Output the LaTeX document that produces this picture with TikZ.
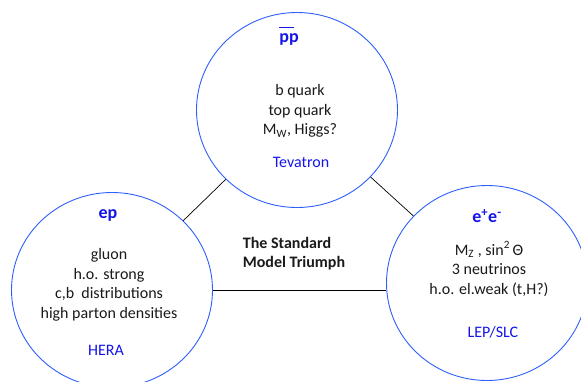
\documentclass[tikz,border=0pt]{standalone}
\usepackage{fontspec}
\setmainfont{Carlito}
\usepackage{xcolor}
\usepackage{tikz}
\usetikzlibrary{shapes.geometric,positioning,calc}

\definecolor{ringblue}{RGB}{45,95,250}
\definecolor{labblue}{RGB}{20,20,235}
\definecolor{inkgray}{RGB}{25,25,25}

\newcommand{\antiproton}{\leavevmode\rlap{\rule[14pt]{15pt}{1.6pt}}p}

\begin{document}
\begin{tikzpicture}[x=1pt, y=-1pt,
        collider/.style={draw=ringblue, ellipse, line width=0.9pt, minimum width=201pt, minimum height=195pt, inner sep=0pt},
        beams/.style={text=labblue, font=\fontsize{18}{20}\selectfont\bfseries},
        physics/.style={text=inkgray, align=center, font=\fontsize{16}{19.5}\selectfont, inner sep=0pt},
        lab/.style={text=labblue, font=\fontsize{16}{19.5}\selectfont, inner sep=0pt},
        link/.style={draw=black, line width=0.7pt}
    ]
        \useasboundingbox (0,0) rectangle (581,381);

        % the three colliders
        \node [collider] (tev) at (297,110) {};
        \node [collider] (hera) at (112,290) {};
        \node [collider] (lep) at (487,283) {};

        % Tevatron
        \node [beams] (tevbeam) at (289,36) {\antiproton p};
        \node [physics] (tevphys) at (300,111) {b quark\\top quark\\M\textsubscript{W}, Higgs?};
        \node [lab] (tevlab) at (301,162) {Tevatron};

        % HERA
        \node [beams] (herabeam) at (108,215) {ep};
        \node [physics] (heraphys) at (109,285) {gluon\\h.o. strong\\c,b\ \ distributions\\high parton densities};
        \node [lab] (heralab) at (106,350) {HERA};

        % LEP/SLC
        \node [beams] (lepbeam) at (487,216) {e\textsuperscript{+}e\textsuperscript{-}};
        \node [physics] (lepphys) at (489,269) {M\textsubscript{Z} , sin\textsuperscript{2}\,Θ\\3 neutrinos\\h.o. el.weak (t,H?)};
        \node [lab] (leplab) at (493,332) {LEP/SLC};

        \node [physics, align=left, font=\fontsize{16}{19}\selectfont\bfseries] (triumph) at (294,254) {The Standard\\Model Triumph};

        \draw [link] (hera) -- (tev);
        \draw [link] (tev) -- (lep);
        \draw [link] (hera.east) -- (hera.east -| lep.west);
    \end{tikzpicture}
\end{document}
